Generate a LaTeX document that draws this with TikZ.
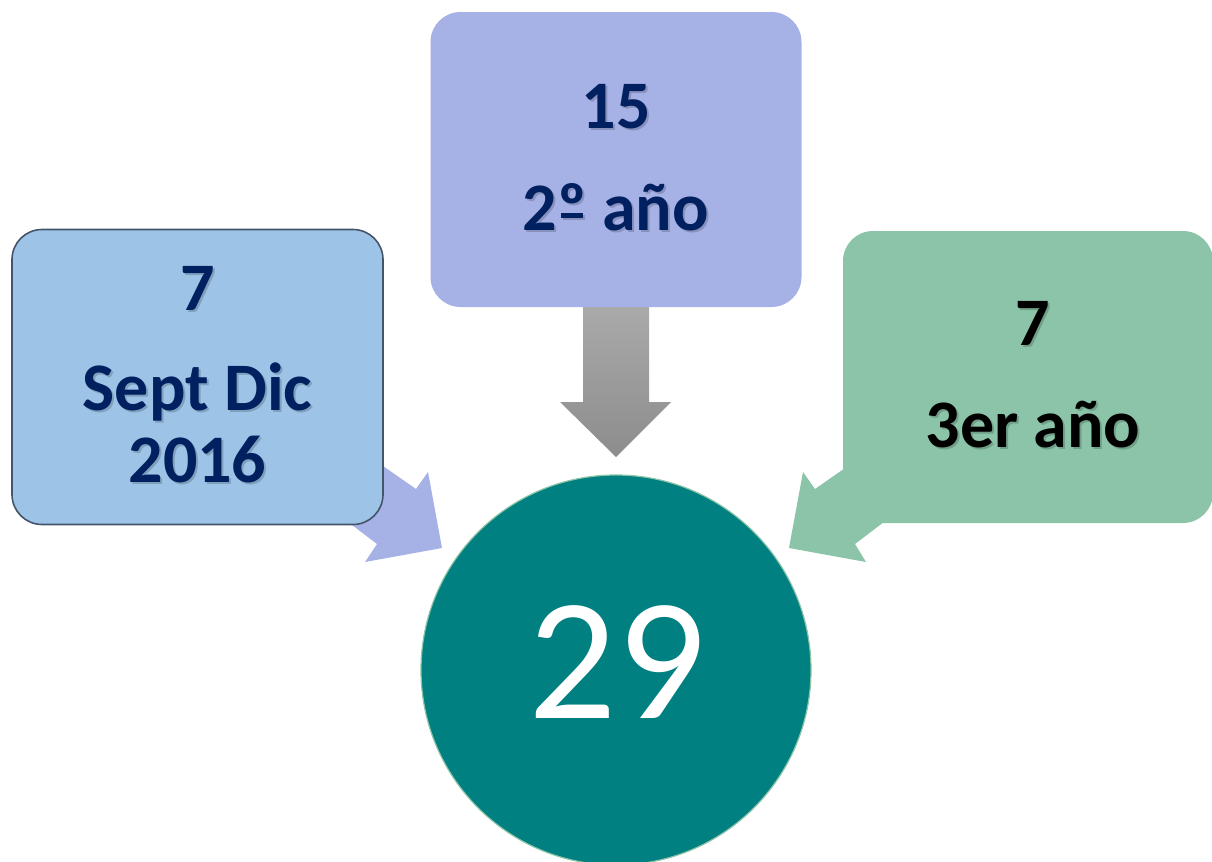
\documentclass[tikz,border=0pt]{standalone}
\usepackage{fontspec}
\setmainfont{Carlito}
\usepackage{xcolor}
\definecolor{navy}{HTML}{002060}
\definecolor{boxblue}{HTML}{9DC3E6}
\definecolor{boxlila}{HTML}{A6B1E6}
\definecolor{boxgreen}{HTML}{8BC4A8}
\definecolor{tealdark}{HTML}{008080}
\definecolor{edgegray}{HTML}{44546A}
\newcommand{\etiqueta}[4]{% name, position, colour, text
  \node[dato, text=black, opacity=0.18] at ([shift={(2,2)}]#2) {#4};
  \node[dato, text=#3] (#1) at (#2) {#4};}
% underlined ordinal sign
\newcommand{\ordo}{\setbox0\hbox{º}\rlap{º}\hbox to \wd0{\hss\raisebox{0.18em}{\rule{0.75\wd0}{0.065em}}\hss}}

\begin{document}
\begin{tikzpicture}[x=0.5pt,y=-0.5pt,
  caja/.style={rounded corners=15pt, minimum width=185.5pt, minimum height=147.5pt, inner sep=0pt},
  dato/.style={font=\bfseries\fontsize{34}{40}\selectfont, anchor=base, inner sep=0pt}]
        \clip (0,0) rectangle (1212,862);
        % block arrows, under the boxes
        \fill[color=boxlila] (350,443) -- (416,489) -- (428,472) -- (442,548) -- (365,562) -- (377,544) -- (327,506) -- cycle;
        \fill[color=boxgreen] (881,443) -- (815,489) -- (803,472) -- (789,548) -- (866,562) -- (855,544) -- (905,506) -- cycle;
        \shade[top color=black!33, bottom color=black!45] (583,300) -- (583,402) -- (560,402) -- (616,457) -- (671,402) -- (649,402) -- (649,300) -- cycle;
        % boxes
        \node[caja, fill=boxblue, draw=edgegray, line width=0.8pt] (sept) at (197.5,377) {};
        \node[caja, fill=boxlila] (segundo) at (616,159.5) {};
        \node[caja, fill=boxgreen, minimum width=185pt, minimum height=146pt] (tercero) at (1028,377) {};
        \node[circle, fill=tealdark, draw=boxgreen, line width=0.6pt, minimum size=195pt] (total) at (616,670) {};
        % texts
        \etiqueta{septn}{197.5,310}{navy}{7}
        \etiqueta{septa}{197.5,410}{navy}{Sept Dic}
        \etiqueta{septb}{197.5,482}{navy}{2016}
        \etiqueta{segn}{616,128}{navy}{15}
        \etiqueta{sega}{616,230}{navy}{2\ordo{} año}
        \etiqueta{tern}{1033,345}{black}{7}
        \etiqueta{tera}{1033,447}{black}{3er año}
        \node[anchor=base, inner sep=0pt, text=white, font=\fontsize{87}{100}\selectfont] (suma) at (617,718) {29};
\end{tikzpicture}
\end{document}
